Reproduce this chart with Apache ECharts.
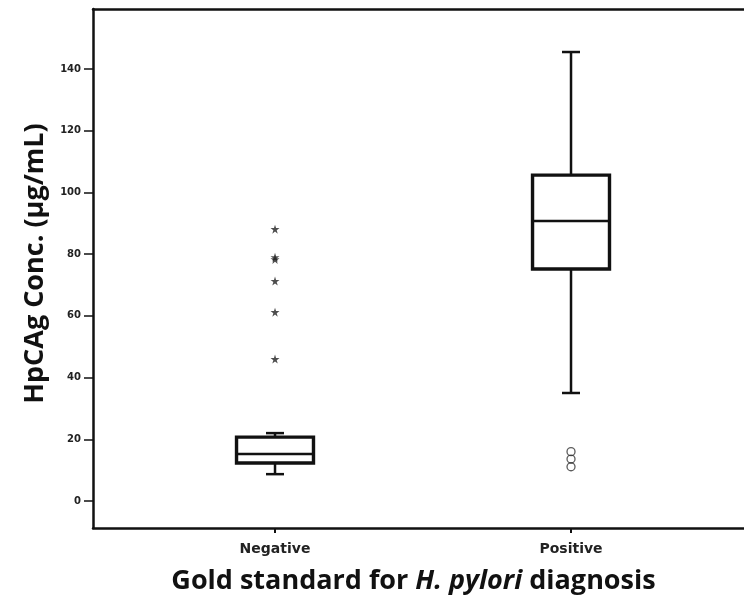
<!DOCTYPE html>
<html>
<head>
<meta charset="utf-8">
<script src="https://cdn.jsdelivr.net/npm/echarts@6.0.0/dist/echarts.min.js"></script>
<style>
  html, body { margin: 0; padding: 0; background: #fff; }
  #chart { width: 744px; height: 602px; }
</style>
</head>
<body>
<div id="chart"></div>
<script>
// Groups on the x axis (positions 1 and 2)
const categories = ['Negative', 'Positive']

// Box summaries: [group, lower whisker, Q1, median, Q3, upper whisker]
const boxStats = [
  [1, 8.7, 12.3, 15.2, 20.7, 22.0],
  [2, 35.0, 75.2, 90.7, 105.6, 145.5]
]

// Extreme values (stars) for the negative group
const negExtremes = [
  [1, 88.1], [1, 79.0], [1, 78.3], [1, 71.3], [1, 61.2], [1, 46.0]
]

// Outliers (circles) for the positive group
const posOutliers = [
  [2, 16.0], [2, 13.6], [2, 11.1]
]

const yTicks = [0, 20, 40, 60, 80, 100, 120, 140]

const starPath = 'path://M50,0 L61,35 L98,35 L68,57 L79,91 L50,70 L21,91 L32,57 L2,35 L39,35 Z'

const chart = echarts.init(document.getElementById('chart'))

// draws a box with short whisker caps
const renderBox = (params, api) => {
  const x = api.value(0)
  const low = api.coord([x, api.value(1)])
  const q1 = api.coord([x, api.value(2)])
  const med = api.coord([x, api.value(3)])
  const q3 = api.coord([x, api.value(4)])
  const high = api.coord([x, api.value(5)])
  const half = api.size([0.26, 0])[0] / 2
  const cap = 9
  const cx = low[0]
  const stroke = { stroke: '#111', lineWidth: 2.5 }
  return {
    type: 'group',
    children: [
      { type: 'line', shape: { x1: cx, y1: high[1], x2: cx, y2: q3[1] }, style: stroke },
      { type: 'line', shape: { x1: cx, y1: q1[1], x2: cx, y2: low[1] }, style: stroke },
      { type: 'line', shape: { x1: cx - cap, y1: high[1], x2: cx + cap, y2: high[1] }, style: stroke },
      { type: 'line', shape: { x1: cx - cap, y1: low[1], x2: cx + cap, y2: low[1] }, style: stroke },
      {
        type: 'rect',
        shape: { x: cx - half, y: q3[1], width: half * 2, height: q1[1] - q3[1] },
        style: { fill: '#fff', stroke: '#111', lineWidth: 3.4 }
      },
      { type: 'line', shape: { x1: cx - half, y1: med[1], x2: cx + half, y2: med[1] }, style: { stroke: '#111', lineWidth: 2.5 } }
    ]
  }
}

const option = {
  backgroundColor: '#fff',
  animation: false,
  grid: {
    left: 93,
    right: 0,
    top: 9,
    bottom: 74
  },
  xAxis: [
    {
      type: 'value',
      min: 0.3851,
      max: 2.5844,
      splitLine: { show: false },
      axisLine: { show: true, onZero: false, lineStyle: { color: '#111', width: 2.5 } },
      axisTick: { show: true, customValues: [1, 2], length: 5, lineStyle: { color: '#111', width: 2 } },
      axisLabel: {
        customValues: [1, 2],
        formatter: v => categories[Math.round(v) - 1] || '',
        color: '#222',
        fontFamily: 'DejaVu Sans',
        fontWeight: 'bold',
        fontSize: 14,
        margin: 14
      },
      name: '{n|Gold standard for }{i|H. pylori}{n| diagnosis}',
      nameLocation: 'middle',
      nameGap: 40,
      nameTextStyle: {
        padding: [0, 10, 0, 0],
        rich: {
          n: { fontFamily: 'Open Sans', fontWeight: 'bold', fontSize: 27, color: '#111' },
          i: { fontFamily: 'Open Sans', fontWeight: 'bold', fontStyle: 'italic', fontSize: 27, color: '#111' }
        }
      }
    },
    {
      // top frame line
      type: 'value',
      position: 'top',
      min: 0.3851,
      max: 2.5844,
      splitLine: { show: false },
      axisLine: { show: true, onZero: false, lineStyle: { color: '#111', width: 2.5 } },
      axisTick: { show: false },
      axisLabel: { show: false }
    }
  ],
  yAxis: {
    type: 'value',
    min: -8.75,
    max: 159.44,
    splitLine: { show: false },
    axisLine: { show: true, onZero: false, lineStyle: { color: '#111', width: 2.5 } },
    axisTick: { show: true, customValues: yTicks, length: 9, lineStyle: { color: '#111', width: 1.5 } },
    axisLabel: {
      customValues: yTicks,
      color: '#222',
      fontFamily: 'DejaVu Sans',
      fontWeight: 'bold',
      fontSize: 10,
      margin: 12
    },
    name: 'HpCAg Conc. (µg/mL)',
    nameLocation: 'middle',
    nameGap: 44,
    nameTextStyle: {
      fontFamily: 'Open Sans',
      fontWeight: 'bold',
      fontSize: 27,
      color: '#111',
      padding: [0, 0, 0, 10]
    }
  },
  series: [
    {
      type: 'custom',
      renderItem: renderBox,
      data: boxStats,
      encode: { x: 0, y: [1, 2, 3, 4, 5] },
      z: 2
    },
    {
      type: 'scatter',
      data: negExtremes,
      symbol: starPath,
      symbolSize: 9,
      itemStyle: { color: '#222' },
      z: 3
    },
    {
      type: 'scatter',
      data: posOutliers,
      symbol: 'circle',
      symbolSize: 8,
      itemStyle: { color: 'transparent', borderColor: '#333', borderWidth: 1.3 },
      z: 3
    }
  ]
}

chart.setOption(option)
</script>
</body>
</html>
